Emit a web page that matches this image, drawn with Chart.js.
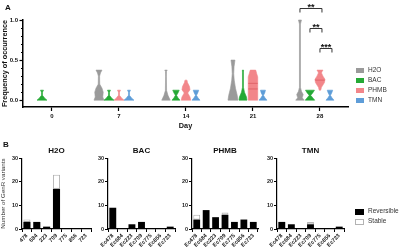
<!DOCTYPE html>
<html><head><meta charset="utf-8">
<script src="https://cdn.jsdelivr.net/npm/chart.js@4/dist/chart.umd.min.js"></script>
<style>
html,body{margin:0;padding:0;background:#fff;}
#wrap{position:relative;width:400px;height:248px;overflow:hidden;font-family:"Liberation Sans",Arial,sans-serif;}
canvas{position:absolute;}
.t{position:absolute;white-space:nowrap;color:#333;line-height:1;}
.box{position:absolute;}
</style></head><body>
<div id="wrap">
<canvas id="cA" style="left:0px;top:0px" width="400" height="135"></canvas>
<canvas id="cB0" style="left:0px;top:130px" width="97" height="118"></canvas>
<canvas id="cB1" style="left:86px;top:130px" width="95" height="118"></canvas>
<canvas id="cB2" style="left:170px;top:130px" width="94" height="118"></canvas>
<canvas id="cB3" style="left:255px;top:130px" width="95" height="118"></canvas>
<div class="t" style="left:5px;top:4px;font-size:8px;font-weight:bold;color:#111">A</div>
<div class="t" style="left:3px;top:141px;font-size:8px;font-weight:bold;color:#111">B</div>
<div id="legA"></div>
<div id="legB"></div>
</div>
<script>
const F = '"Liberation Sans", Arial, sans-serif';

// ---------- Panel A data ----------
const days = [0, 7, 14, 21, 28];
const seriesNames = ['H2O', 'BAC', 'PHMB', 'TMN'];
// violin profiles per day: [frequency of occurrence, relative density]
const h2oViolins = [
  null,
  [[0,1.0],[0.04,0.75],[0.1,0.85],[0.15,0.6],[0.2,0.15],[0.3,0.12],[0.34,0.3],[0.375,0.6]],
  [[0,0.85],[0.06,0.4],[0.12,0.12],[0.3,0.08],[0.36,0.1],[0.375,0.25]],
  [[0,1.0],[0.06,0.85],[0.15,0.5],[0.25,0.25],[0.33,0.15],[0.42,0.22],[0.5,0.4]],
  [[0,0.85],[0.03,0.45],[0.07,0.65],[0.11,0.3],[0.16,0.1],[0.95,0.1],[1.0,0.3]]
];
const bacViolins = [
  [[0,1.0],[0.025,0.55],[0.06,0.1],[0.1,0.1],[0.125,0.3]],
  [[0,1.0],[0.025,0.55],[0.06,0.1],[0.1,0.1],[0.125,0.3]],
  [[0,0.8],[0.03,0.4],[0.06,0.12],[0.09,0.4],[0.125,0.65]],
  [[0,0.8],[0.04,0.7],[0.1,0.3],[0.16,0.1],[0.35,0.1],[0.375,0.12]],
  [[0,0.95],[0.03,0.55],[0.06,0.15],[0.09,0.55],[0.125,0.9]]
];
const phmbViolins = [
  null,
  [[0,1.0],[0.025,0.55],[0.06,0.1],[0.1,0.1],[0.125,0.3]],
  [[0,0.95],[0.04,0.8],[0.09,0.35],[0.13,0.8],[0.17,0.7],[0.22,0.3],[0.25,0.2]],
  [[0,0.95],[0.29,0.95],[0.33,0.75],[0.375,0.55]],
  [[0.125,0.15],[0.16,0.3],[0.22,0.9],[0.26,1.0],[0.3,0.6],[0.34,0.3],[0.36,0.45],[0.375,0.6]]
];
const tmnViolins = [
  null,
  [[0,1.0],[0.025,0.55],[0.06,0.1],[0.1,0.1],[0.125,0.3]],
  [[0,0.8],[0.03,0.4],[0.06,0.1],[0.09,0.35],[0.125,0.55]],
  [[0,0.8],[0.03,0.4],[0.06,0.1],[0.09,0.35],[0.125,0.5]],
  [[0,0.8],[0.03,0.4],[0.06,0.1],[0.09,0.35],[0.125,0.55]]
];
const phmbQuartiles = [null, null, null, [0.14, 0.21], [0.25]];
const sigDay = 28;
const sigPairs = [['H2O','PHMB'], ['BAC','PHMB'], ['PHMB','TMN']];
const sigLabels = ['**', '**', '***'];
const yTicksA = [0, 0.5, 1.0];

// ---------- Panel B data ----------
const h2oGenes = ['478','684','223','709','775','856','723'];
const ecGenes = ['Ec478','Ec684','Ec223','Ec709','Ec775','Ec856','Ec723'];
const h2oReversible = [3, 3, 1, 17, 0, 0, 0];
const h2oStable = [1, 0, 0, 6, 0, 0, 0];
const bacReversible = [9, 0, 2, 3, 0, 0, 1];
const bacStable = [0, 0, 0, 0, 0, 0, 0];
const phmbReversible = [4, 8, 5, 6, 3, 4, 3];
const phmbStable = [2, 0, 0, 1, 0, 0, 0];
const tmnReversible = [3, 2, 0, 2, 0, 0, 1];
const tmnStable = [0, 0, 0, 1, 0, 0, 0];
const yTicksB = [0, 10, 20, 30];

// ---------- styles ----------
const violinSets = [h2oViolins, bacViolins, phmbViolins, tmnViolins];
const colors = ['#9a9a9a', '#25a935', '#f2868a', '#5e9dd8'];
const groupOffsetPx = [-20, -10, 0, 10];
const halfMaxPx = 5;
const sigLevelsPx = [8, 28, 48];

function densAt(shape, v) {
  for (let i = 0; i < shape.length - 1; i++) {
    const a = shape[i], b = shape[i+1];
    if (v >= a[0] && v <= b[0]) return a[1] + (b[1]-a[1]) * (v-a[0])/(b[0]-a[0]);
  }
  return 0;
}

const violinPlugin = {
  id: 'violins',
  afterDatasetsDraw(chart) {
    const ctx = chart.ctx, xs = chart.scales.x, ys = chart.scales.y;
    ctx.save();
    violinSets.forEach((set, si) => {
      set.forEach((shape, di) => {
        if (!shape) return;
        const cx = xs.getPixelForValue(days[di]) + groupOffsetPx[si];
        ctx.beginPath();
        shape.forEach((p, k) => {
          const x = cx + p[1]*halfMaxPx, y = ys.getPixelForValue(p[0]);
          k ? ctx.lineTo(x, y) : ctx.moveTo(x, y);
        });
        for (let k = shape.length - 1; k >= 0; k--) {
          const p = shape[k];
          ctx.lineTo(cx - p[1]*halfMaxPx, ys.getPixelForValue(p[0]));
        }
        ctx.closePath();
        ctx.fillStyle = colors[si];
        ctx.strokeStyle = colors[si];
        ctx.lineWidth = 0.6;
        ctx.fill(); ctx.stroke();
        if (si === 2 && phmbQuartiles[di]) {
          ctx.strokeStyle = '#d9545a'; ctx.lineWidth = 0.7;
          phmbQuartiles[di].forEach(q => {
            const w = densAt(shape, q) * halfMaxPx, y = ys.getPixelForValue(q);
            ctx.beginPath(); ctx.moveTo(cx - w, y); ctx.lineTo(cx + w, y); ctx.stroke();
          });
        }
      });
    });
    // significance brackets
    const base = xs.getPixelForValue(sigDay);
    ctx.strokeStyle = '#333'; ctx.lineWidth = 1; ctx.fillStyle = '#111';
    ctx.font = 'bold 9px ' + F; ctx.textAlign = 'center'; ctx.textBaseline = 'alphabetic';
    sigPairs.forEach((pair, i) => {
      const x1 = base + groupOffsetPx[seriesNames.indexOf(pair[0])];
      const x2 = base + groupOffsetPx[seriesNames.indexOf(pair[1])] + 2;
      const y = sigLevelsPx[i] + 0.5;
      ctx.beginPath();
      ctx.moveTo(x1, y + 4); ctx.lineTo(x1, y); ctx.lineTo(x2, y); ctx.lineTo(x2, y + 4);
      ctx.stroke();
      ctx.fillText(sigLabels[i], (x1 + x2)/2, y + 1);
    });
    // minor y ticks
    ctx.strokeStyle = '#000'; ctx.lineWidth = 1;
    for (let v = 0; v <= 10; v++) {
      if (v % 5 === 0) continue;
      const y = Math.round(ys.getPixelForValue(v/10)) + 0.5;
      ctx.beginPath(); ctx.moveTo(ys.right - 2, y); ctx.lineTo(ys.right, y); ctx.stroke();
    }
    ctx.restore();
  }
};

new Chart(document.getElementById('cA'), {
  type: 'scatter',
  data: {
    datasets: seriesNames.map((n, i) => ({
      label: n,
      data: days.map((d, j) => violinSets[i][j] ? {x: d, y: violinSets[i][j][violinSets[i][j].length-1][0]} : null).filter(Boolean),
      pointRadius: 0, backgroundColor: colors[i]
    }))
  },
  options: {
    responsive: false, animation: false, devicePixelRatio: 1,
    layout: {padding: {top: 20, right: 52, left: 0, bottom: 0}},
    plugins: {legend: {display: false}, tooltip: {enabled: false}},
    scales: {
      x: {
        type: 'linear', min: -3.03, max: 30.93,
        afterBuildTicks: s => { s.ticks = days.map(v => ({value: v})); },
        afterFit: s => { s.height = 28; },
        grid: {drawOnChartArea: false, drawTicks: true, tickLength: 4, tickColor: '#000', tickWidth: 1.2},
        border: {color: '#000', width: 1.5},
        ticks: {font: {family: F, size: 6, weight: 'bold'}, color: '#111', padding: 2, maxRotation: 0, autoSkip: false},
        title: {display: true, text: 'Day', font: {family: F, size: 7.3, weight: 'bold'}, color: '#111', padding: {top: 1, bottom: 4.6}}
      },
      y: {
        min: -0.085, max: 1.0,
        afterBuildTicks: s => { s.ticks = yTicksA.map(v => ({value: v})); },
        afterFit: s => { s.width = 23; },
        grid: {drawOnChartArea: false, drawTicks: true, tickLength: 3.5, tickColor: '#000', tickWidth: 1.2},
        border: {color: '#000', width: 1.5},
        ticks: {font: {family: F, size: 6, weight: 'bold'}, color: '#111', padding: 1.5, callback: v => Number(v).toFixed(1)},
        title: {display: true, text: 'Frequency of occurrence', font: {family: F, size: 7.3, weight: 'bold'}, color: '#111', padding: 0.5}
      }
    }
  },
  plugins: [violinPlugin]
});

function makeBar(id, title, labels, rev, stab, showYTitle) {
  new Chart(document.getElementById(id), {
    type: 'bar',
    data: {labels: labels, datasets: [
      {label: 'Reversible', data: rev, backgroundColor: '#000', borderWidth: 0, barPercentage: 0.72, categoryPercentage: 1},
      {label: 'Stable', data: stab, backgroundColor: '#fff', borderColor: '#b3b3b3', borderWidth: c => c.raw ? 1 : 0, borderSkipped: false, barPercentage: 0.72, categoryPercentage: 1}
    ]},
    options: {
      responsive: false, animation: false, devicePixelRatio: 1,
      layout: {padding: {top: 14, right: 6, left: 0, bottom: 0}},
      plugins: {
        legend: {display: false}, tooltip: {enabled: false},
        title: {display: true, text: title, fullSize: false, font: {family: F, size: 8, weight: 'bold'}, color: '#111', padding: {top: 1.5, bottom: 3}}
      },
      scales: {
        x: {
          stacked: true,
          afterFit: s => { s.height = 19; },
          grid: {drawOnChartArea: false, drawTicks: true, tickLength: 3, tickColor: '#000'},
          border: {color: '#000', width: 1.2},
          ticks: {autoSkip: false, maxRotation: 45, minRotation: 45, font: {family: F, size: 5.5, weight: 'bold'}, color: '#222', padding: 0.5}
        },
        y: {
          stacked: true, min: 0, max: 30,
          afterBuildTicks: s => { s.ticks = yTicksB.map(v => ({value: v})); },
          afterFit: s => { s.width = 22; },
          grid: {drawOnChartArea: false, drawTicks: true, tickLength: 3, tickColor: '#000'},
          border: {color: '#000', width: 1.2},
          ticks: {font: {family: F, size: 5.5, weight: 'bold'}, color: '#222', padding: 1},
          title: {display: showYTitle, text: 'Number of GenR variants', font: {family: F, size: 6.2}, color: '#333', padding: 0}
        }
      }
    }
  });
}
makeBar('cB0', 'H2O', h2oGenes, h2oReversible, h2oStable, true);
makeBar('cB1', 'BAC', ecGenes, bacReversible, bacStable, false);
makeBar('cB2', 'PHMB', ecGenes, phmbReversible, phmbStable, false);
makeBar('cB3', 'TMN', ecGenes, tmnReversible, tmnStable, false);

// legends
const legA = document.getElementById('legA');
seriesNames.forEach((n, i) => {
  const cy = 70 + i*10;
  legA.insertAdjacentHTML('beforeend',
    `<div class="box" style="left:356px;top:${cy-2.5}px;width:8px;height:5px;background:${colors[i]}"></div>` +
    `<div class="t" style="left:368px;top:${cy-3.25}px;font-size:6.5px">${n}</div>`);
});
const legB = document.getElementById('legB');
[['Reversible', '#000', '#000'], ['Stable', '#fff', '#b3b3b3']].forEach((it, i) => {
  const cy = 211 + i*10;
  legB.insertAdjacentHTML('beforeend',
    `<div class="box" style="left:355px;top:${cy-2.5}px;width:7px;height:4px;background:${it[1]};border:1px solid ${it[2]}"></div>` +
    `<div class="t" style="left:368px;top:${cy-3.25}px;font-size:6.5px">${it[0]}</div>`);
});
</script>
</body></html>
